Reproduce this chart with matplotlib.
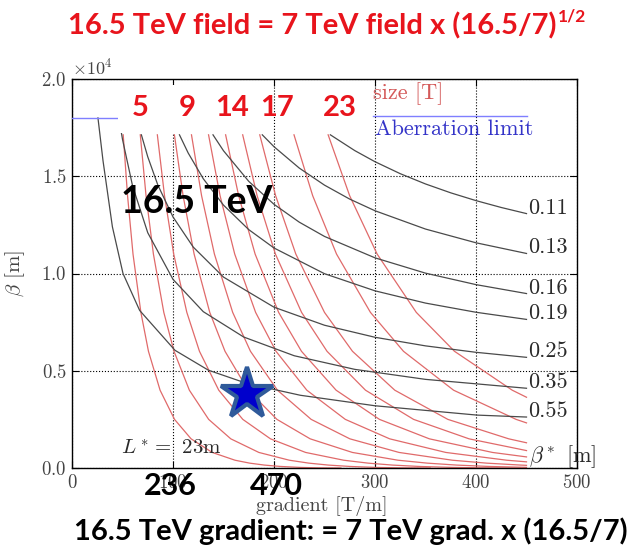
import matplotlib
matplotlib.use('Agg')
import matplotlib.pyplot as plt
from matplotlib.patches import Rectangle

plt.rcParams['mathtext.fontset'] = 'cm'
plt.rcParams['axes.formatter.use_mathtext'] = True
plt.rcParams['font.family'] = ['cmr10', 'DejaVu Sans']

# ---------------- data ----------------
# beta* contours (black): gradient [T/m] vs beta_max [m]
beta_star_labels = ['0.11', '0.13', '0.16', '0.19', '0.25', '0.35', '0.55']
bs_g = [
    [255.8, 280, 300, 325, 350, 375, 400, 425, 450],
    [188.4, 200, 225, 250, 275, 300, 350, 400, 450],
    [139.6, 150, 175, 200, 225, 250, 300, 350, 400, 450],
    [106.4, 115, 130, 150, 175, 200, 250, 300, 350, 400, 450],
    [68.7, 75, 85, 100, 120, 150, 200, 250, 300, 350, 400, 450],
    [46.4, 50, 60, 75, 100, 130, 170, 220, 280, 350, 450],
    [25.7, 30.7, 40, 50.5, 67, 102, 135, 173, 226, 300, 401, 450],
]
bs_beta = [
    [17130, 16318, 15747, 15132, 14604, 14147, 13747, 13394, 13080],
    [17130, 16519, 15421, 14543, 13824, 13226, 12285, 11579, 11030],
    [17130, 16311, 14738, 13558, 12640, 11906, 10805, 10018, 9428, 8969],
    [17130, 16198, 14871, 13515, 12256, 11312, 9990, 9109, 8479, 8007, 7640],
    [17130, 16001, 14546, 12908, 11361, 9815, 8268, 7340, 6721, 6279, 5948, 5690],
    [18000, 16896, 14497, 12097, 9698, 8037, 6734, 5772, 5071, 4557, 4100],
    [18000, 15800, 12400, 10000, 8100, 6050, 5030, 4350, 3740, 3200, 2720, 2620],
]

# field contours (red): gradient [T/m] vs beta_max [m]
levels = [17130, 14000, 11000, 8000, 6000, 4000, 2500, 1500, 800, 400, 250, 150, 80, 30, 8, 0]
fld_g = [
    [50.7, 55.0, 60.4, 68.2, 75.7, 87.2, 101.5, 117.9, 138.8, 161.4, 175.9, 190.5, 206.3, 226.0, 243.8, 266.2],
    [67.6, 73.3, 80.6, 90.9, 101.0, 116.2, 135.3, 157.2, 185.0, 215.2, 234.5, 253.9, 275.1, 301.3, 325.1, 354.9],
    [84.5, 91.6, 100.7, 113.7, 126.2, 145.3, 169.1, 196.5, 231.3, 269.0, 293.2, 317.4, 343.8, 376.7, 406.4, 443.7],
    [101.4, 110.0, 120.9, 136.4, 151.5, 174.4, 202.9, 235.8, 277.6, 322.8, 351.8, 380.9, 412.6, 450],
    [118.3, 128.3, 141.0, 159.1, 176.7, 203.4, 236.8, 275.1, 323.8, 376.6, 410.5, 444.4, 450],
    [135.2, 146.6, 161.1, 181.8, 202.0, 232.5, 270.6, 314.5, 370.1, 430.4, 450],
    [152.1, 165.0, 181.3, 204.6, 227.2, 261.5, 304.4, 353.8, 416.3, 450],
    [169.0, 183.3, 201.4, 227.3, 252.5, 290.6, 338.2, 393.1, 450],
    [185.9, 201.6, 221.6, 250.0, 277.7, 319.6, 372.1, 432.4, 450],
    [219.8, 238.3, 261.9, 295.5, 328.2, 377.8, 439.7, 450],
    [253.6, 274.9, 302.1, 340.9, 378.7, 435.9, 450],
]
fld_beta = [
    levels,
    levels,
    levels,
    levels[:13] + [32],
    levels[:12] + [137],
    levels[:10] + [316],
    levels[:9] + [570],
    levels[:8] + [896],
    levels[:8] + [1297],
    levels[:7] + [2319],
    levels[:6] + [3637],
]

aberr_g = [0, 45.5]
aberr_beta = [18000, 18000]

star_g, star_beta = 173, 3780

field_labels = ['5', '9', '14', '17', '23']
grad_labels = ['236', '470']

x_ticks = [0, 100, 200, 300, 400, 500]
y_ticks = [0, 5000, 10000, 15000, 20000]

# ---------------- figure ----------------
W, H = 635, 551
fig = plt.figure(figsize=(W / 100, H / 100), dpi=100)
ax = fig.add_axes([72 / W, 1 - 468 / H, (577 - 72) / W, (468 - 79) / H])

RED_LINE = '#e06a6a'
BLACK_LINE = '#4a4a4a'

for g, b in zip(fld_g, fld_beta):
    ax.plot(g, b, color=RED_LINE, lw=0.9, zorder=2)
for g, b, lab in zip(bs_g, bs_beta, beta_star_labels):
    ax.plot(g, b, color=BLACK_LINE, lw=0.9, zorder=3)
    ax.text(g[-1] + 2, b[-1], lab, fontsize=16, color='#2a2a2a',
            ha='left', va='baseline', zorder=5)

ax.plot(aberr_g, aberr_beta, color='#7f7fff', lw=1.0, zorder=3)

ax.plot([star_g], [star_beta], marker='*', ms=39, mfc='#0000cc',
        mec='#2f5a9a', mew=3, zorder=6, linestyle='none')

ax.set_xlim(0, 500)
ax.set_ylim(0, 20000)
ax.set_xticks(x_ticks)
ax.set_yticks(y_ticks)
ax.ticklabel_format(axis='y', style='sci', scilimits=(0, 0), useMathText=True)
ax.yaxis.get_offset_text().set_fontsize(13)
ax.yaxis.get_offset_text().set_color('#444444')
ax.tick_params(direction='in', length=5, top=True, right=True,
               labelsize=13.5, labelcolor='#444444', pad=4)
ax.grid(True, linestyle=':', color='black', lw=0.8)
ax.set_axisbelow(True)
for s in ax.spines.values():
    s.set_linewidth(1.0)

# white overlay box hiding the legend handles
ax.add_patch(Rectangle(((118 - 72) / 505, (468 - 133) / 389), (265 - 118) / 505,
                       (133 - 85) / 389, transform=ax.transAxes,
                       facecolor='white', edgecolor='none', zorder=4))

# legend-like labels
ax.text((373 - 72) / 505, (468 - 99) / 389, 'size [T]', transform=ax.transAxes,
        fontsize=16, color='#d45a5a', ha='left', va='baseline', zorder=5)
ax.plot([(373 - 72) / 505, (527 - 72) / 505], [(468 - 116) / 389] * 2,
        transform=ax.transAxes, color='#7f7fff', lw=1.0, zorder=5)
ax.text((375 - 72) / 505, (468 - 135) / 389, 'Aberration limit', transform=ax.transAxes,
        fontsize=16, color='#3434c8', ha='left', va='baseline', zorder=5)

ax.text(452, 300, r'$\beta^*$ [m]', fontsize=16, color='#2a2a2a',
        ha='left', va='baseline', zorder=5, clip_on=False)
ax.text(98, 1026, r'$L^* =$ 23m', fontsize=15, color='#2a2a2a',
        ha='center', va='center', zorder=5)

ax.set_ylabel(r'$\beta$ [m]', fontsize=15, color='#444444', labelpad=10)
fig.text(322 / W, 1 - 506 / H, 'gradient [T/m]', fontsize=14.5, color='#444444',
         ha='center', va='center')

# slide annotations
BOLD = dict(family=['Lato', 'DejaVu Sans'], weight='bold')
RED = '#e8141c'
for lab, xp in zip(field_labels, [140, 187, 232, 277, 340]):
    fig.text(xp / W, 1 - 108 / H, lab, color=RED, fontsize=21, ha='center',
             va='center', **BOLD)
ax.text((197 - 72) / 505, (468 - 202) / 389, '16.5 TeV', transform=ax.transAxes,
        fontsize=27, color='black', ha='center', va='center', zorder=7, **BOLD)
for lab, xp in zip(grad_labels, [170, 276]):
    fig.text(xp / W, 1 - 486 / H, lab, color='black', fontsize=22, ha='center',
             va='center', **BOLD)

t1 = fig.text(68 / W, 1 - 34 / H, '16.5 TeV field = 7 TeV field x (16.5/7)',
              color=RED, fontsize=21, ha='left', va='baseline', **BOLD)
fig.canvas.draw()
bb = t1.get_window_extent()
fig.text((bb.x1 + 1) / W, 1 - 21 / H, '1/2', color=RED, fontsize=12.5,
         ha='left', va='baseline', **BOLD)

fig.text(351 / W, 1 - 531 / H, '16.5 TeV gradient: = 7 TeV grad. x (16.5/7)',
         color='black', fontsize=21, ha='center', va='center', **BOLD)

fig.savefig('out.png', dpi=100)
